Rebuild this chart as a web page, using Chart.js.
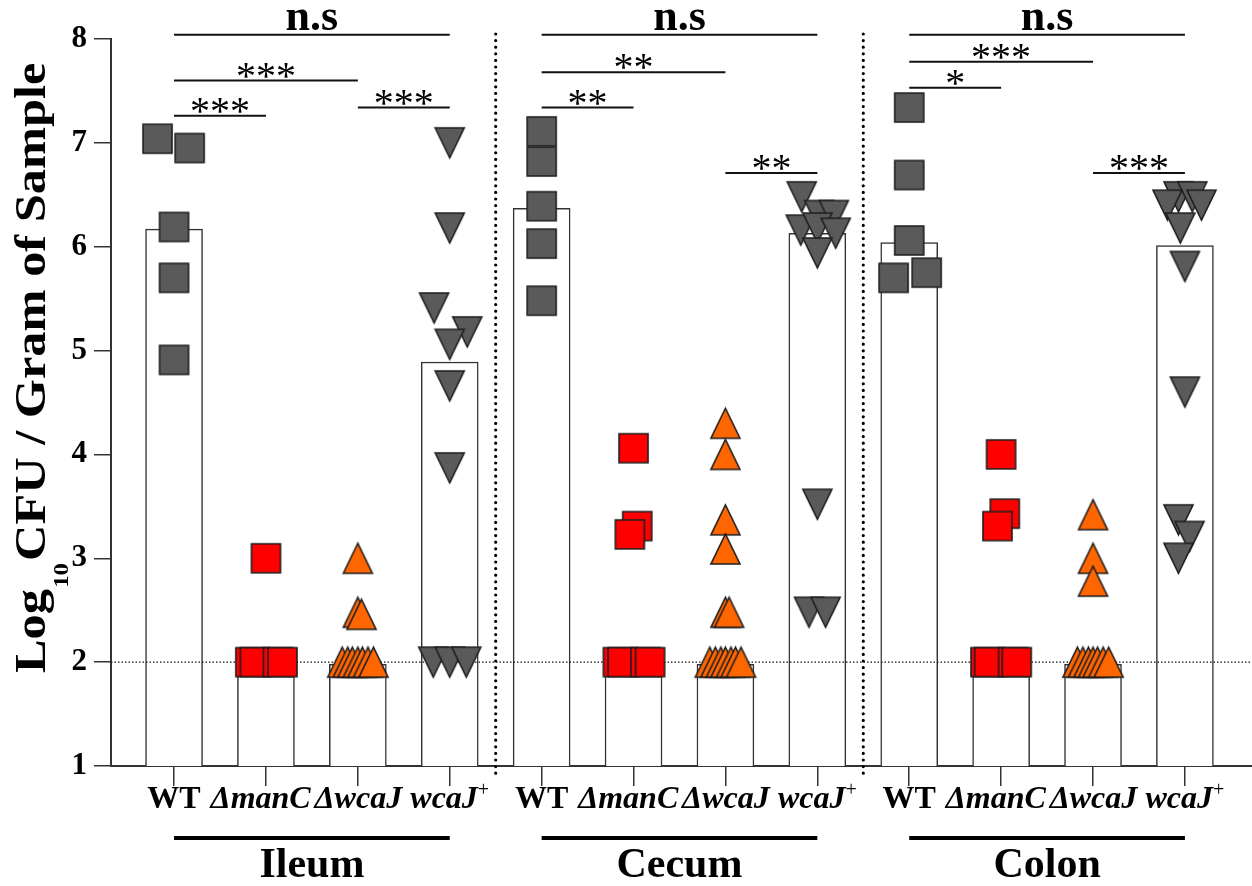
<!DOCTYPE html>
<html>
<head>
<meta charset="utf-8">
<script src="https://cdn.jsdelivr.net/npm/chart.js@4.4.1/dist/chart.umd.min.js"></script>
<style>
  html, body { margin: 0; padding: 0; background: #fff; }
  #wrap { width: 1252px; height: 886px; }
</style>
</head>
<body>
<div id="wrap"><canvas id="cfuChart" width="1252" height="886"></canvas></div>
<script>
const groups = ['Ileum', 'Cecum', 'Colon'];
const strains = ['WT', 'ΔmanC', 'ΔwcaJ', 'wcaJ'];   // last one gets a superscript +
const yTicks = [1, 2, 3, 4, 5, 6, 7, 8];
const detectionLimit = 2;

// bar heights (group means)
const ileumMeans = [6.17, 1.98, 1.98, 4.89];
const cecumMeans = [6.37, 1.98, 1.98, 6.13];
const colonMeans = [6.04, 1.98, 1.98, 6.01];

// individual animals: [jitter, log10 CFU]
const ileumWT   = [[-0.18, 7.04], [0.17, 6.95], [0, 6.19], [0, 5.70], [0, 4.91]];
const ileumManC = [[0, 3.00], [-0.17, 2], [-0.12, 2], [0.13, 2], [0.18, 2]];
const ileumWcaJ = [[0, 3.00], [0, 2.48], [0.04, 2.46], [-0.17, 2], [-0.11, 2], [-0.06, 2], [0, 2], [0.05, 2], [0.11, 2], [0.17, 2]];
const ileumComp = [[0, 7.00], [0, 6.18], [-0.17, 5.41], [0.19, 5.18], [0, 5.06], [0, 4.66], [0, 3.87], [-0.18, 2], [0, 2], [0.18, 2]];

const cecumWT   = [[0, 7.11], [0, 6.82], [0, 6.39], [0, 6.03], [0, 5.48]];
const cecumManC = [[0, 4.06], [0.04, 3.31], [-0.04, 3.23], [-0.17, 2], [-0.12, 2], [0.13, 2], [0.18, 2]];
const cecumWcaJ = [[0, 4.30], [0, 4.00], [0, 3.37], [0, 3.09], [0, 2.48], [0.04, 2.48], [-0.17, 2], [-0.11, 2], [-0.05, 2], [0, 2], [0.06, 2], [0.11, 2], [0.17, 2]];
const cecumComp = [[-0.17, 6.48], [0.02, 6.30], [0.18, 6.30], [-0.18, 6.16], [0, 6.18], [0.2, 6.13], [0, 5.94], [0, 3.52], [-0.09, 2.48], [0.09, 2.48]];

const colonWT   = [[0, 7.34], [0, 6.69], [0, 6.06], [-0.17, 5.70], [0.19, 5.75]];
const colonManC = [[0, 4.00], [0.04, 3.43], [-0.04, 3.31], [-0.17, 2], [-0.13, 2], [0.13, 2], [0.17, 2]];
const colonWcaJ = [[0, 3.42], [0, 3.00], [0, 2.78], [-0.17, 2], [-0.11, 2], [-0.05, 2], [0, 2], [0.05, 2], [0.11, 2], [0.17, 2]];
const colonComp = [[-0.07, 6.48], [0.08, 6.48], [-0.19, 6.40], [0.18, 6.40], [-0.05, 6.18], [0, 5.81], [0, 4.60], [-0.07, 3.37], [0.05, 3.21], [-0.07, 3.00]];

// significance: [from, to, height, label]
const sigBrackets = [
  [0, 3, 8.04, 'n.s'], [0, 2, 7.60, '***'], [0, 1, 7.26, '***'], [2, 3, 7.34, '***'],
  [4, 7, 8.04, 'n.s'], [4, 6, 7.68, '**'], [4, 5, 7.34, '**'], [6, 7, 6.71, '**'],
  [8, 11, 8.04, 'n.s'], [8, 10, 7.78, '***'], [8, 9, 7.53, '*'], [10, 11, 6.71, '***']
];

const meanSets = [ileumMeans, cecumMeans, colonMeans];
const pointSets = [
  [ileumWT, ileumManC, ileumWcaJ, ileumComp],
  [cecumWT, cecumManC, cecumWcaJ, cecumComp],
  [colonWT, colonManC, colonWcaJ, colonComp]
];

const barData = [];
const strainPoints = strains.map(() => []);
groups.forEach((g, gi) => {
  strains.forEach((s, si) => {
    const x = gi * strains.length + si;
    barData.push({ x: x, y: meanSets[gi][si] });
    pointSets[gi][si].forEach(([dx, v]) => strainPoints[si].push({ x: x + dx, y: v }));
  });
});

const serif = '"Liberation Serif", "Times New Roman", serif';

function marker(shape, fill) {
  const w = 29, h = shape === 'square' ? 29 : 30, pad = 2;
  const c = document.createElement('canvas');
  c.width = w + 2 * pad; c.height = h + 2 * pad;
  const g = c.getContext('2d');
  g.beginPath();
  if (shape === 'square') {
    g.rect(pad, pad, w, h);
  } else if (shape === 'up') {
    g.moveTo(pad + w / 2, pad); g.lineTo(pad + w, pad + h); g.lineTo(pad, pad + h); g.closePath();
  } else {
    g.moveTo(pad, pad); g.lineTo(pad + w, pad); g.lineTo(pad + w / 2, pad + h); g.closePath();
  }
  g.fillStyle = fill; g.fill();
  g.lineWidth = 1.6; g.strokeStyle = '#1e1e1e'; g.stroke();
  return c;
}
const markers = [
  marker('square', '#5a5a5a'),
  marker('square', '#ff0000'),
  marker('up', '#ff6600'),
  marker('down', '#5a5a5a')
];

// centre a label on its ink box rather than its advance width (italics lean right)
function inkCentred(ctx, text, cx, y) {
  ctx.textAlign = 'left';
  const m = ctx.measureText(text);
  ctx.fillText(text, cx - (m.actualBoundingBoxRight - m.actualBoundingBoxLeft) / 2, y);
}

const decorations = {
  id: 'decorations',
  afterDatasetDraw(chart, args) {
    if (args.index !== 0) return;
    // limit of detection, drawn over the bars but under the points
    const { ctx, chartArea: a, scales: { y } } = chart;
    const py = y.getPixelForValue(detectionLimit);
    ctx.save();
    ctx.strokeStyle = '#111'; ctx.lineWidth = 1.3; ctx.setLineDash([1.5, 2]);
    ctx.beginPath(); ctx.moveTo(a.left, py); ctx.lineTo(a.right, py); ctx.stroke();
    ctx.restore();
  },
  afterDraw(chart) {
    const { ctx, scales: { x, y } } = chart;
    ctx.save();
    ctx.fillStyle = '#000';

    // dotted separators between tissues
    ctx.strokeStyle = '#000'; ctx.lineWidth = 3.2; ctx.lineCap = 'round'; ctx.setLineDash([0, 6.6]);
    for (let gi = 1; gi < groups.length; gi++) {
      const px = x.getPixelForValue(gi * strains.length - 0.5);
      ctx.beginPath(); ctx.moveTo(px, 34); ctx.lineTo(px, 776); ctx.stroke();
    }
    ctx.setLineDash([]); ctx.lineCap = 'butt';

    // significance bars
    sigBrackets.forEach(([a, b, v, label]) => {
      const x1 = x.getPixelForValue(a), x2 = x.getPixelForValue(b), py = y.getPixelForValue(v);
      ctx.strokeStyle = '#111'; ctx.lineWidth = 2;
      ctx.beginPath(); ctx.moveTo(x1, py); ctx.lineTo(x2, py); ctx.stroke();
      const ns = label === 'n.s';
      ctx.font = ns ? `bold 44px ${serif}` : `40px ${serif}`;
      ctx.textAlign = 'center'; ctx.textBaseline = 'alphabetic';
      const m = ctx.measureText(label);
      ctx.fillText(label, (x1 + x2) / 2, py - (ns ? 5 : 3) - m.actualBoundingBoxDescent);
    });

    // strain labels
    const labelY = 808;
    groups.forEach((g, gi) => {
      strains.forEach((s, si) => {
        const cx = x.getPixelForValue(gi * strains.length + si);
        if (si === 0) {
          ctx.font = `bold 32px ${serif}`; ctx.textAlign = 'center';
          ctx.fillText(s, cx, labelY);
        } else if (si === strains.length - 1) {
          ctx.font = `italic bold 32px ${serif}`;
          const w1 = ctx.measureText(s).width;
          ctx.font = `20px ${serif}`;
          const w2 = ctx.measureText('+').width;
          const left = cx - (w1 + w2) / 2;
          ctx.textAlign = 'left';
          ctx.font = `italic bold 32px ${serif}`; ctx.fillText(s, left, labelY);
          ctx.font = `20px ${serif}`; ctx.fillText('+', left + w1, labelY - 12);
        } else {
          ctx.font = `italic bold 32px ${serif}`;
          inkCentred(ctx, s, cx - (si === 1 ? 6 : 0), labelY);
        }
      });
      // tissue underline + name
      const xa = x.getPixelForValue(gi * strains.length);
      const xb = x.getPixelForValue(gi * strains.length + strains.length - 1);
      ctx.strokeStyle = '#000'; ctx.lineWidth = 4;
      ctx.beginPath(); ctx.moveTo(xa, 838); ctx.lineTo(xb, 838); ctx.stroke();
      ctx.font = `bold 42px ${serif}`; ctx.textAlign = 'center';
      ctx.fillText(g, (xa + xb) / 2, 877);
    });

    // y title with subscript
    ctx.save();
    ctx.translate(45, 673); ctx.rotate(-Math.PI / 2); ctx.scale(1.12, 1);
    ctx.textAlign = 'left'; ctx.textBaseline = 'alphabetic';
    ctx.font = `bold 45px ${serif}`;
    ctx.fillText('Log', 0, 0);
    let w = ctx.measureText('Log').width;
    ctx.font = `bold 22px ${serif}`;
    ctx.fillText('10', w + 1, 23);
    w += ctx.measureText('10').width + 3;
    ctx.font = `bold 45px ${serif}`;
    ctx.fillText('CFU / Gram of Sample', w, 0);
    ctx.restore();

    ctx.restore();
  }
};

const pointDatasets = strainPoints.map((pts, si) => ({
  type: 'scatter',
  data: pts,
  pointStyle: markers[si],
  pointRadius: 15,
  order: 1
}));

new Chart(document.getElementById('cfuChart'), {
  type: 'bar',
  data: {
    datasets: [
      {
        type: 'bar',
        data: barData,
        backgroundColor: '#ffffff',
        borderColor: '#333333',
        borderWidth: 1.5,
        barThickness: 57,
        order: 2
      },
      ...pointDatasets
    ]
  },
  options: {
    responsive: false,
    animation: false,
    events: [],
    layout: { autoPadding: false, padding: { top: 39, right: 0, left: 0, bottom: 0 } },
    plugins: { legend: { display: false }, tooltip: { enabled: false } },
    scales: {
      x: {
        type: 'linear',
        min: -0.686,
        max: 11.73,
        offset: false,
        afterBuildTicks: s => { s.ticks = barData.map(d => ({ value: d.x })); },
        afterFit: s => { s.height = 120; },
        ticks: { callback: () => '', autoSkip: false },
        grid: { drawOnChartArea: false, drawTicks: true, tickLength: 20, color: '#333', lineWidth: 1.5, offset: false },
        border: { color: '#333', width: 2 }
      },
      y: {
        min: 1,
        max: 8,
        afterBuildTicks: s => { s.ticks = yTicks.map(v => ({ value: v })); },
        afterFit: s => { s.width = 111; },
        ticks: { color: '#000', font: { family: serif, size: 31, weight: 'bold' }, padding: 7 },
        grid: { drawOnChartArea: false, tickLength: 17, color: '#333', lineWidth: 1.5 },
        border: { color: '#333', width: 2 }
      }
    }
  },
  plugins: [decorations]
});
</script>
</body>
</html>
